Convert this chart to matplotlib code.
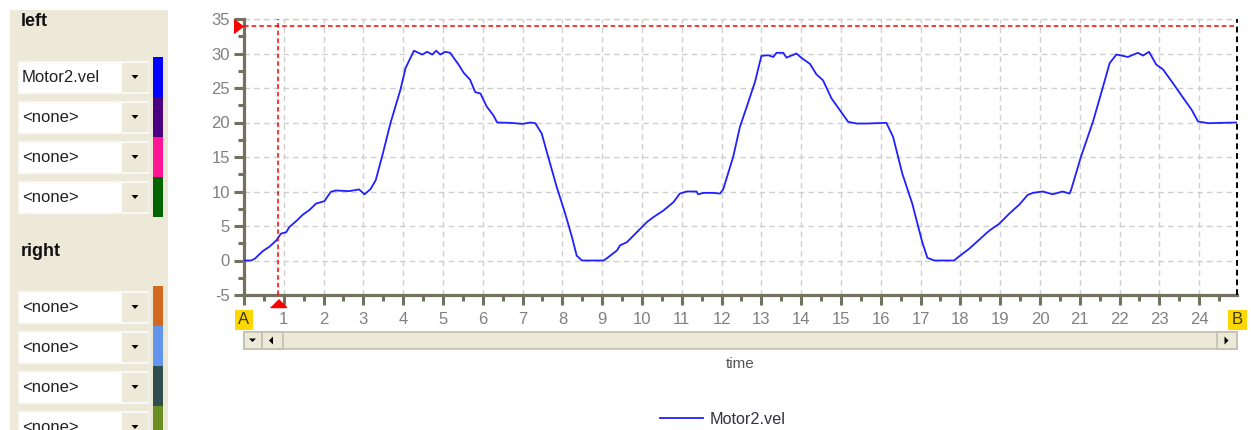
import matplotlib
matplotlib.use("Agg")
import matplotlib.pyplot as plt
from matplotlib.patches import Rectangle, Polygon
from matplotlib.ticker import MultipleLocator, FixedLocator, FixedFormatter
from matplotlib.transforms import offset_copy

plt.rcParams['font.family'] = ['Liberation Sans', 'DejaVu Sans']
plt.rcParams['axes.unicode_minus'] = False

# data
time_s = [0, 0.18, 0.27, 0.48, 0.64, 0.81, 0.93, 1.06, 1.14, 1.31,
          1.48, 1.64, 1.81, 2.02, 2.18, 2.31, 2.64, 2.89, 3.03, 3.18,
          3.31, 3.48, 3.68, 3.93, 4.06, 4.27, 4.48, 4.6, 4.73, 4.83,
          4.93, 5.06, 5.18, 5.39, 5.52, 5.68, 5.81, 5.94, 6.1, 6.27,
          6.36, 6.69, 7.0, 7.19, 7.32, 7.48, 7.61, 7.86, 8.07, 8.24,
          8.36, 8.49, 9.03, 9.1, 9.37, 9.45, 9.62, 9.87, 10.12, 10.29,
          10.54, 10.79, 10.95, 11.12, 11.37, 11.41, 11.54, 11.79, 11.96, 12.04,
          12.29, 12.46, 12.63, 12.84, 13.0, 13.17, 13.3, 13.38, 13.55, 13.63,
          13.88, 14.0, 14.22, 14.38, 14.55, 14.76, 14.97, 15.18, 15.39, 15.64,
          16.14, 16.31, 16.54, 16.79, 17.04, 17.17, 17.34, 17.84, 17.97, 18.22,
          18.47, 18.72, 18.97, 19.23, 19.48, 19.69, 19.82, 20.07, 20.32, 20.57,
          20.74, 20.78, 21.03, 21.33, 21.54, 21.75, 21.92, 22.21, 22.46, 22.59,
          22.74, 22.92, 23.09, 23.34, 23.6, 23.81, 23.97, 24.22, 24.95]
motor2_vel = [0, 0, 0.25, 1.4, 2.0, 2.9, 3.9, 4.1, 4.85, 5.7,
              6.65, 7.3, 8.25, 8.6, 9.95, 10.15, 10.05, 10.3, 9.6, 10.35,
              11.65, 15.3, 19.9, 24.75, 27.9, 30.4, 29.85, 30.25, 29.85, 30.4,
              29.85, 30.25, 30.1, 28.4, 27.2, 26.2, 24.4, 24.2, 22.3, 21.0,
              20.0, 19.95, 19.8, 20.0, 19.9, 18.4, 15.7, 10.6, 6.8, 3.4,
              0.7, 0, 0, 0.25, 1.45, 2.2, 2.65, 4.1, 5.55, 6.3,
              7.25, 8.45, 9.7, 10.0, 10.0, 9.6, 9.8, 9.8, 9.7, 10.3,
              15.0, 19.35, 22.25, 25.9, 29.65, 29.75, 29.5, 30.1, 30.1, 29.4,
              30.0, 29.4, 28.5, 27.0, 26.1, 23.5, 21.8, 20.1, 19.85, 19.85,
              19.95, 17.9, 12.6, 8.25, 2.7, 0.4, 0, 0, 0.6, 1.7,
              3.0, 4.3, 5.3, 6.8, 8.1, 9.5, 9.8, 10.0, 9.6, 10.0,
              9.7, 10.2, 15.05, 20.1, 24.3, 28.6, 29.85, 29.5, 30.1, 29.7,
              30.25, 28.4, 27.7, 25.7, 23.55, 21.85, 20.15, 19.9, 20.0]

x_min, x_max = 0, 24.95
y_min, y_max = -5, 35
cursor_x = 0.85
cursor_y = 34

left_series = ['Motor2.vel', '<none>', '<none>', '<none>']
left_colors = ['#0000FF', '#4B0082', '#FF1493', '#006400']
right_series = ['<none>', '<none>', '<none>', '<none>']
right_colors = ['#D2691E', '#6495ED', '#2F4F4F', '#6B8E23']

W, H = 1251, 430
fig = plt.figure(figsize=(W / 100, H / 100), dpi=100)
fig.patch.set_facecolor('white')

# pixel-space overlay for the GUI bits
ui = fig.add_axes([0, 0, 1, 1])
ui.set_xlim(0, W)
ui.set_ylim(H, 0)
ui.axis('off')

beige = '#ECE9D8'
ui.add_patch(Rectangle((10, 10), 158, 420, fc=beige, ec='none'))
ui.text(21, 21, 'left', fontsize=13, fontweight='bold', va='center', color='#111111')
ui.text(21, 251, 'right', fontsize=13, fontweight='bold', va='center', color='#111111')


def combo(top, label, color, bar_top):
    ui.add_patch(Rectangle((18, top), 130, 32, fc='white', ec='#f6f4ee', lw=1))
    ui.add_patch(Rectangle((122, top + 1.5), 25.5, 29, fc=beige, ec='none'))
    mid = top + 16
    ui.add_patch(Polygon([(131.5, mid - 2), (138.5, mid - 2), (135, mid + 2)],
                         closed=True, fc='black', ec='none'))
    ui.text(22, mid, label, fontsize=12, va='center', color='#222222')
    ui.add_patch(Rectangle((153, bar_top), 10, 40, fc=color, ec='none'))


for i, (lab, col) in enumerate(zip(left_series, left_colors)):
    combo(61 + 40 * i, lab, col, 57 + 40 * i)
for i, (lab, col) in enumerate(zip(right_series, right_colors)):
    combo(291 + 40 * i, lab, col, 286 + 40 * i)

# scrollbar under the plot
ui.add_patch(Rectangle((243.5, 331.5), 993, 17.5, fc=beige, ec='#c4c0b0', lw=1.2))
for x0, w in [(243.5, 18), (261.5, 21), (1217, 19.5)]:
    ui.add_patch(Rectangle((x0, 331.5), w, 17.5, fc=beige, ec='#c4c0b0', lw=1.2))
ui.add_patch(Polygon([(249, 338.5), (256, 338.5), (252.5, 342)], closed=True, fc='black'))
ui.add_patch(Polygon([(273, 336.5), (273, 344.5), (269, 340.5)], closed=True, fc='black'))
ui.add_patch(Polygon([(1224.5, 336.5), (1224.5, 344.5), (1228.5, 340.5)], closed=True, fc='black'))

# A / B cursor flags
ui.add_patch(Rectangle((235, 310), 18, 20, fc='#FFD700', ec='none'))
ui.text(244, 320, 'A', fontsize=12, ha='center', va='center', color='#3a3a00')
ui.add_patch(Rectangle((1228, 310), 18.5, 20, fc='#FFD700', ec='none'))
ui.text(1237, 320, 'B', fontsize=12, ha='center', va='center', color='#3a3a00')

ui.text(740, 364, 'time', fontsize=11, ha='center', va='center', color='#555555')

# main chart
ax = fig.add_axes([244 / W, 1 - 295 / H, (1237 - 244) / W, (295 - 19) / H])
ax.set_facecolor('white')
line, = ax.plot(time_s, motor2_vel, color='#2020ff', lw=1.3, label='Motor2.vel', zorder=3)

ax.set_xlim(x_min, x_max)
ax.set_ylim(y_min, y_max)

xt = list(range(0, 25))
ax.xaxis.set_major_locator(FixedLocator(xt))
ax.xaxis.set_major_formatter(FixedFormatter([''] + [str(v) for v in xt[1:]]))
ax.xaxis.set_minor_locator(MultipleLocator(0.5))
ax.yaxis.set_major_locator(MultipleLocator(5))
ax.yaxis.set_minor_locator(MultipleLocator(2.5))

spine_col = '#74725f'
for s in ['top', 'right']:
    ax.spines[s].set_visible(False)
for s in ['left', 'bottom']:
    ax.spines[s].set_color(spine_col)
    ax.spines[s].set_linewidth(2.3)

ax.tick_params(which='major', direction='out', length=7.2, width=2.2, color=spine_col,
               labelsize=12, labelcolor='#808080')
ax.tick_params(which='minor', direction='out', length=4.5, width=2.2, color=spine_col)
ax.tick_params(axis='x', which='major', pad=5)
ax.tick_params(axis='y', which='major', pad=3)

ax.grid(True, which='major', color='#cfcfcf', linestyle=(0, (4, 3)), lw=1)
ax.axhline(y_max, color='#cfcfcf', linestyle=(0, (4, 3)), lw=1, clip_on=False)

# cursors
ax.axhline(cursor_y, color='#ff0000', linestyle=(0, (3, 2)), lw=1.1, zorder=4)
ax.axvline(cursor_x, color='#ff0000', linestyle=(0, (3, 2)), lw=1.1, zorder=4)
ax.axvline(x_max, color='black', linestyle=(0, (3, 2)), lw=1.4, zorder=4, clip_on=False)

tri_left = offset_copy(ax.transData, fig=fig, x=-6.5, y=0, units='dots')
ax.plot([x_min], [cursor_y], marker=[(-0.65, -1), (0.65, 0), (-0.65, 1)], ms=10,
        color='red', mec='red', transform=tri_left, clip_on=False, zorder=5)
tri_up = offset_copy(ax.transData, fig=fig, x=0, y=-8, units='dots')
ax.plot([cursor_x], [y_min], marker=[(-1, -0.5), (1, -0.5), (0, 0.5)], ms=11.5,
        color='red', mec='red', transform=tri_up, clip_on=False, zorder=5)

fig.legend(handles=[line], loc='center', bbox_to_anchor=(722.8 / W, 1 - 419.3 / H),
           frameon=False, fontsize=11.7, handlelength=2.6, handletextpad=0.4,
           labelcolor='#333344')

fig.savefig('out.png', dpi=100)
